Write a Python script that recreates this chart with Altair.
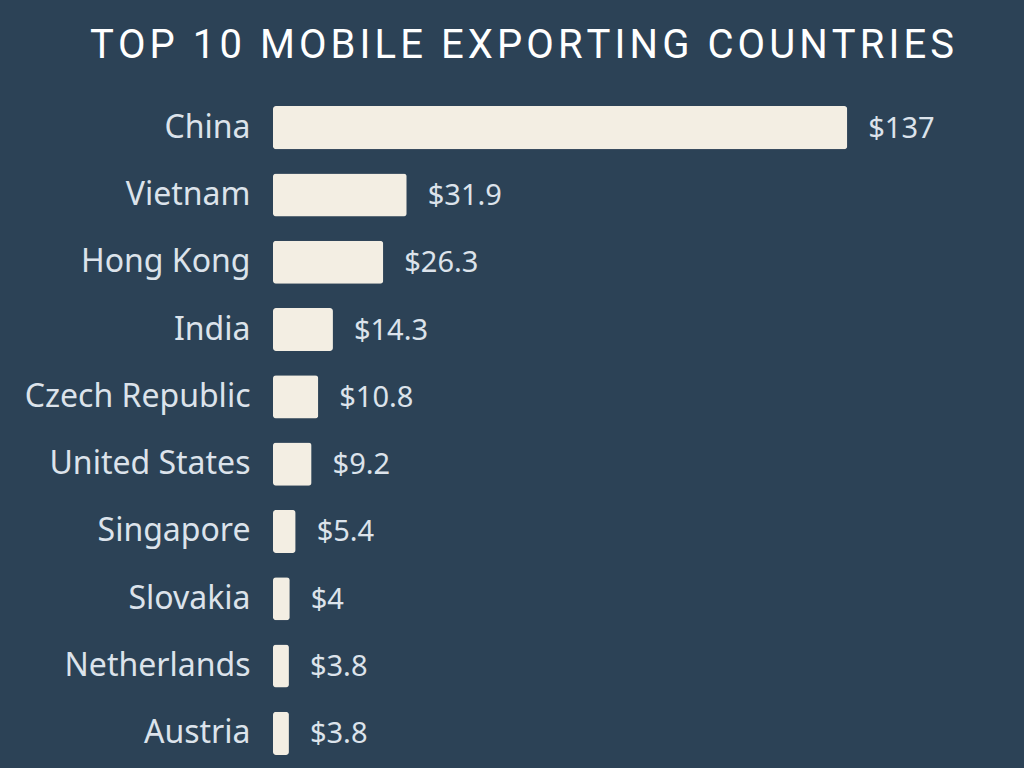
import altair as alt
import pandas as pd

# Mobile phone exports by country, billions of US dollars
countries = [
    "China", "Vietnam", "Hong Kong", "India", "Czech Republic",
    "United States", "Singapore", "Slovakia", "Netherlands", "Austria",
]
exports_bn = [137, 31.9, 26.3, 14.3, 10.8, 9.2, 5.4, 4, 3.8, 3.8]

TITLE = "TOP 10 MOBILE EXPORTING COUNTRIES"

df = pd.DataFrame({"country": countries, "exports": exports_bn})
df["label"] = ["$" + format(v, "g") for v in exports_bn]

BG = "#2c4256"
BAR = "#f3eee3"
TEXT = "#dce3eb"

# widen the tracking of the heading with hair spaces between letters
tracked_title = "\u200a".join(TITLE)

x = alt.X("exports:Q", axis=None, scale=alt.Scale(domain=[0, 167], nice=False))
y = alt.Y(
    "country:N",
    sort=countries,
    scale=alt.Scale(paddingInner=0.36, paddingOuter=0.18),
    axis=alt.Axis(
        title=None, domain=False, ticks=False, labelPadding=23,
        labelFont="Noto Sans", labelFontSize=32, labelColor=TEXT,
        labelLimit=300,
    ),
)

bars = alt.Chart(df).mark_bar(color=BAR, cornerRadius=3).encode(x=x, y=y)

values = alt.Chart(df).mark_text(
    align="left", baseline="middle", dx=21, dy=1,
    font="Noto Sans", fontSize=29, color=TEXT,
).encode(x=x, y=y, text="label:N")

chart = (
    alt.layer(bars, values)
    .properties(
        width=700,
        height=673,
        background=BG,
        padding={"left": 273, "top": 94, "right": 51, "bottom": 1},
        autosize=alt.AutoSizeParams(type="none"),
        title=alt.TitleParams(
            tracked_title,
            anchor="middle", dx=-101, offset=28,
            font="Roboto", fontSize=40, fontWeight="normal", color="#ffffff",
        ),
    )
    .configure_view(stroke=None)
)

chart.save("out.html", embed_options={"renderer": "svg", "actions": False})
